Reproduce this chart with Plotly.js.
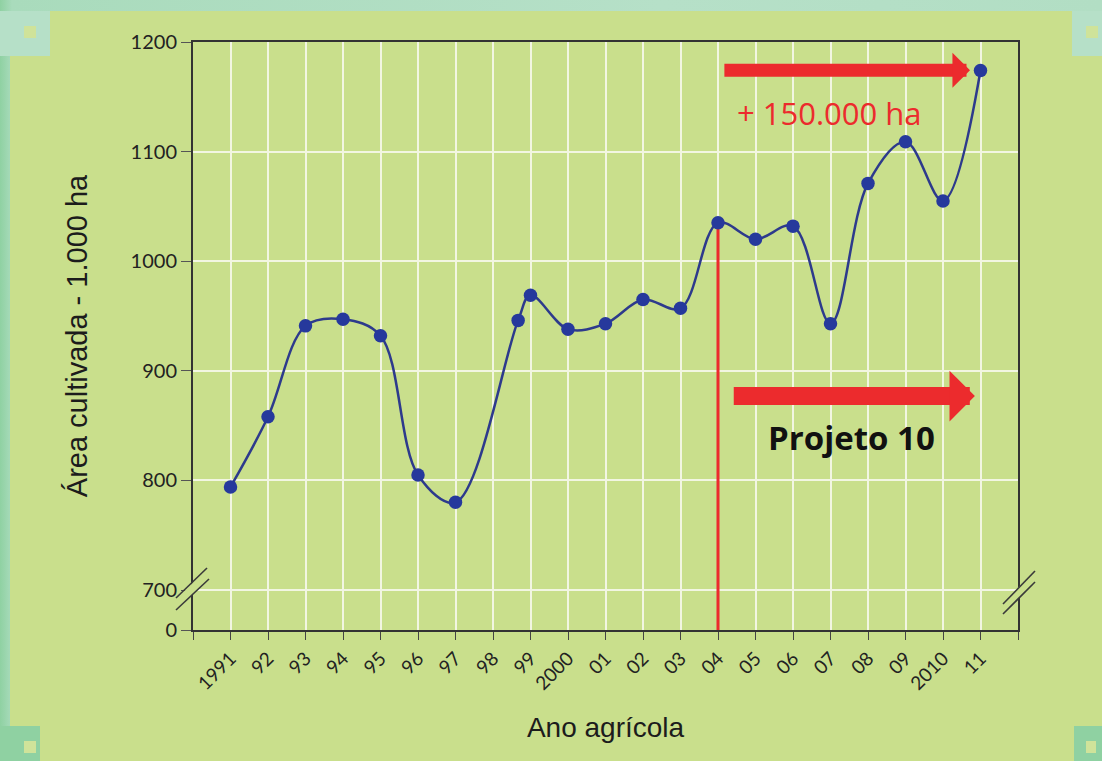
<!DOCTYPE html>
<html>
<head>
<meta charset="utf-8">
<script src="https://cdn.plot.ly/plotly-3.0.1.min.js"></script>
<style>
  html, body { margin: 0; padding: 0; }
  body { width: 1102px; height: 761px; overflow: hidden; position: relative;
         background: linear-gradient(90deg, #8fd1a2 0px, #a9dbbc 12px, #b6e0c8 60%, #b2dec4 100%); }
  #bg { position: absolute; left: 10px; top: 11px; right: 0; bottom: 0; background: #c9df8c; }
  .px { position: absolute; }
  #chart { position: absolute; left: 0; top: 0; width: 1102px; height: 761px; }
</style>
</head>
<body>
<div id="bg"></div>
<div class="px" style="left:0;top:11px;width:50px;height:45px;background:#b6e0c8"></div>
<div class="px" style="left:24px;top:26px;width:12px;height:12px;background:#cfe39a"></div>
<div class="px" style="left:1072px;top:11px;width:30px;height:45px;background:#b6e0c8"></div>
<div class="px" style="left:1086px;top:26px;width:12px;height:12px;background:#cfe39a"></div>
<div class="px" style="left:0;top:726px;width:40px;height:35px;background:#8fd1a2"></div>
<div class="px" style="left:24px;top:741px;width:12px;height:12px;background:#cfe39a"></div>
<div class="px" style="left:1074px;top:726px;width:28px;height:35px;background:#8fd1a2"></div>
<div class="px" style="left:1086px;top:741px;width:10px;height:12px;background:#cfe39a"></div>
<div id="chart"></div>
<script>
// ---- data ----
const xYears = [1991, 1992, 1993, 1994, 1995, 1996, 1997, 1998.67, 1999, 2000,
                2001, 2002, 2003, 2004, 2005, 2006, 2007, 2008, 2009, 2010, 2011];
const areaValues = [794, 858, 941, 947, 932, 805, 780, 946, 969, 938,
                    943, 965, 957, 1035, 1020, 1032, 943, 1071, 1109, 1055, 1174];
const xTickVals = [1990, 1991, 1992, 1993, 1994, 1995, 1996, 1997, 1998, 1999, 2000,
                   2001, 2002, 2003, 2004, 2005, 2006, 2007, 2008, 2009, 2010, 2011, 2012];
const xTickText = ['', '1991', '92', '93', '94', '95', '96', '97', '98', '99', '2000',
                   '01', '02', '03', '04', '05', '06', '07', '08', '09', '2010', '11', ''];
const yBreakBase = 663.5;   // axis position standing for 0 below the break
const yTickVals = [yBreakBase, 700, 800, 900, 1000, 1100, 1200];
const yTickText = ['0', '700', '800', '900', '1000', '1100', '1200'];
const projectStartYear = 2004;
const projectStartValue = 1035;
const gainLabel = '+ 150.000 ha';
const projectLabel = 'Projeto 10';

const red = '#ec2b2d';
const green = '#c9df8c';

const trace = {
  type: 'scatter',
  mode: 'lines+markers',
  x: xYears,
  y: areaValues,
  line: { shape: 'spline', smoothing: 1, color: '#2d3a8c', width: 2.5 },
  marker: { size: 13.5, color: '#26399c' },
  hoverinfo: 'x+y',
  showlegend: false
};

function brk(xp, lines) {
  return lines.map(l => ({
    type: 'line', xref: 'paper', yref: 'y', xsizemode: 'pixel', ysizemode: 'pixel',
    xanchor: xp, yanchor: 700, x0: l[0], y0: l[1], x1: l[2], y1: l[3],
    line: { color: l[4], width: l[5] }, layer: 'above'
  }));
}

const shapes = [
  { type: 'line', xref: 'x', yref: 'y', x0: projectStartYear, x1: projectStartYear,
    y0: yBreakBase, y1: projectStartValue, line: { color: red, width: 3 }, layer: 'between' },
  ...brk(0, [
    [-16, -14, 15, 17, green, 8],
    [-17, -8, 14, 22, '#3a3a3a', 1.6],
    [-17, -20, 16, 11, '#3a3a3a', 1.6]
  ]),
  ...brk(1, [
    [-15, -19, 17, 14, green, 8],
    [-15, -14, 17, 19, '#3a3a3a', 1.6],
    [-15, -24, 17, 8, '#3a3a3a', 1.6]
  ])
];

const annotations = [
  { x: 2010.72, y: 1174.2, ax: 2004.13, ay: 1174.2, axref: 'x', ayref: 'y', xref: 'x', yref: 'y',
    text: '', showarrow: true, arrowhead: 1, arrowsize: 0.45, arrowwidth: 13, arrowcolor: red },
  { x: 2010.85, y: 877, ax: 2004.38, ay: 877, axref: 'x', ayref: 'y', xref: 'x', yref: 'y',
    text: '', showarrow: true, arrowhead: 1, arrowsize: 0.47, arrowwidth: 18, arrowcolor: red },
  { x: 2006.96, y: 1135.6, xref: 'x', yref: 'y', text: gainLabel, showarrow: false,
    font: { family: 'Open Sans', size: 31, color: red } },
  { x: 2007.55, y: 838.8, xref: 'x', yref: 'y', text: '<b>' + projectLabel + '</b>', showarrow: false,
    font: { family: 'Open Sans', size: 33, color: '#111111' } }
];

const layout = {
  width: 1102, height: 761,
  margin: { l: 193, r: 84, t: 42, b: 131 },
  paper_bgcolor: 'rgba(0,0,0,0)',
  plot_bgcolor: green,
  xaxis: {
    range: [1990, 2012], tickmode: 'array', tickvals: xTickVals, ticktext: xTickText,
    tickangle: -45, ticks: 'outside', ticklen: 8, tickwidth: 1.2, tickcolor: '#444',
    showline: true, linecolor: '#333', linewidth: 2, mirror: true,
    showgrid: true, gridcolor: '#f2f6e2', gridwidth: 1.5, zeroline: false,
    tickfont: { family: 'Lato', size: 19, color: '#222222' },
    title: { text: 'Ano agrícola', font: { family: 'Liberation Sans', size: 28, color: '#1c1c1c' }, standoff: 24 }
  },
  yaxis: {
    range: [yBreakBase, 1200], tickmode: 'array', tickvals: yTickVals, ticktext: yTickText,
    ticks: 'outside', ticklen: 10, tickwidth: 1.2, tickcolor: '#555',
    showline: true, linecolor: '#333', linewidth: 2, mirror: true,
    showgrid: true, gridcolor: '#f2f6e2', gridwidth: 1.5, zeroline: false,
    tickfont: { family: 'Lato', size: 20, color: '#222222' },
    title: { text: 'Área cultivada - 1.000 ha', font: { family: 'Liberation Sans', size: 29, color: '#1c1c1c' }, standoff: 34 }
  },
  shapes: shapes,
  annotations: annotations
};

Plotly.newPlot('chart', [trace], layout, { displayModeBar: false });
</script>
</body>
</html>
